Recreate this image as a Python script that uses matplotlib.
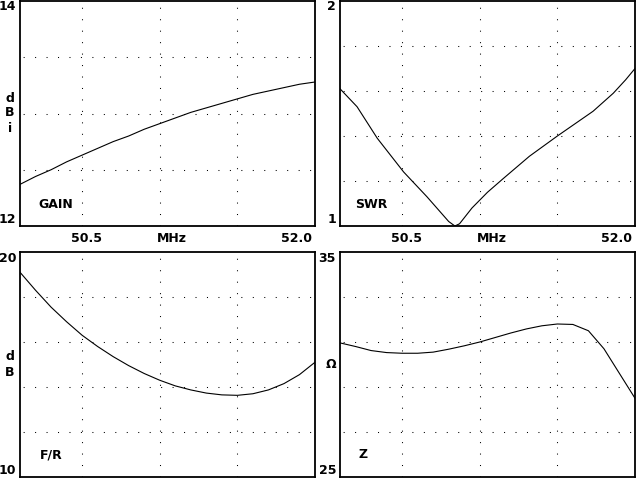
import matplotlib
matplotlib.use("Agg")
import matplotlib.pyplot as plt

# frequency sweep values (MHz)
gain_f = [50.1, 50.2, 50.3, 50.4, 50.5, 50.6, 50.7, 50.8, 50.9, 51.0,
          51.1, 51.2, 51.3, 51.4, 51.5, 51.6, 51.7, 51.8, 51.9, 52.0]
gain_db = [12.37, 12.44, 12.50, 12.57, 12.63, 12.69, 12.75, 12.80, 12.86, 12.91,
           12.96, 13.01, 13.05, 13.09, 13.13, 13.17, 13.20, 13.23, 13.26, 13.28]

swr_f = [50.1, 50.21, 50.34, 50.51, 50.66, 50.8, 50.84, 50.87, 50.95, 51.05,
         51.15, 51.32, 51.5, 51.73, 51.86, 51.94, 52.0]
swr = [1.61, 1.53, 1.39, 1.24, 1.13, 1.02, 1.0, 1.01, 1.08, 1.15,
       1.21, 1.31, 1.40, 1.51, 1.59, 1.65, 1.70]

fr_f = [50.1, 50.2, 50.3, 50.4, 50.5, 50.6, 50.7, 50.8, 50.9, 51.0,
        51.1, 51.2, 51.3, 51.4, 51.5, 51.6, 51.7, 51.8, 51.9, 52.0]
fr_db = [19.1, 18.3, 17.55, 16.9, 16.3, 15.8, 15.35, 14.95, 14.6, 14.3,
         14.05, 13.87, 13.73, 13.65, 13.63, 13.7, 13.87, 14.15, 14.55, 15.1]

z_f = [50.1, 50.2, 50.3, 50.4, 50.5, 50.6, 50.7, 50.8, 50.9, 51.0,
       51.1, 51.2, 51.3, 51.4, 51.5, 51.6, 51.7, 51.8, 51.9, 52.0]
z_ohm = [30.96, 30.8, 30.62, 30.53, 30.5, 30.5, 30.55, 30.68, 30.83, 31.0,
         31.2, 31.4, 31.58, 31.72, 31.8, 31.78, 31.5, 30.7, 29.6, 28.5]

W, H = 640, 480
fig = plt.figure(figsize=(6.4, 4.8), dpi=100)
fig.patch.set_facecolor("white")

FONT = dict(family="DejaVu Sans", fontsize=9, fontweight="bold", color="black")


def px_text(x, y, s, ha="center"):
    fig.text(x / W, 1 - y / H, s, ha=ha, va="center", **FONT)


def panel(left, top, ylim, ndiv, f, v):
    # box in pixel coords -> figure fractions
    ax = fig.add_axes([left / W, 1 - (top + 225) / H, 295 / W, 225 / H])
    ax.plot(f, v, color="black", lw=0.8)
    ax.set_xlim(50.1, 52.0)
    ax.set_ylim(*ylim)
    for xv in [50.5, 51.0, 51.5]:
        ax.axvline(xv, color="black", lw=0.75, ls=(0, (1, 10)))
    step = (ylim[1] - ylim[0]) / ndiv
    for i in range(1, ndiv):
        ax.axhline(ylim[0] + i * step, color="black", lw=0.75, ls=(8, (1, 10)))
    ax.set_xticks([])
    ax.set_yticks([])
    for sp in ax.spines.values():
        sp.set_linewidth(1.3)
    return ax


panel(20, 1, (12, 14), 4, gain_f, gain_db)
panel(340, 1, (1, 2), 5, swr_f, swr)
panel(20, 252, (10, 20), 5, fr_f, fr_db)
panel(340, 252, (25, 35), 5, z_f, z_ohm)

# top-left labels
px_text(16, 7, "14", ha="right")
px_text(16, 220, "12", ha="right")
for y, ch in zip([98, 113, 128], "dBi"):
    px_text(10, y, ch)
px_text(56, 204, "GAIN")

# top-right labels
px_text(336, 7, "2", ha="right")
px_text(336, 220, "1", ha="right")
px_text(371, 204, "SWR")

# x axis labels under top row
for dx in [0, 320]:
    px_text(87 + dx, 239, "50.5")
    px_text(172 + dx, 239, "MHz")
    px_text(297 + dx, 239, "52.0")

# bottom-left labels
px_text(16, 258, "20", ha="right")
px_text(16, 470, "10", ha="right")
for y, ch in zip([357, 372], "dB"):
    px_text(10, y, ch)
px_text(51, 455, "F/R")

# bottom-right labels
px_text(336, 258, "35", ha="right")
px_text(336, 470, "25", ha="right")
px_text(331, 364, "Ω")
px_text(363, 455, "Z")

fig.savefig("out.png", dpi=100, facecolor="white")
